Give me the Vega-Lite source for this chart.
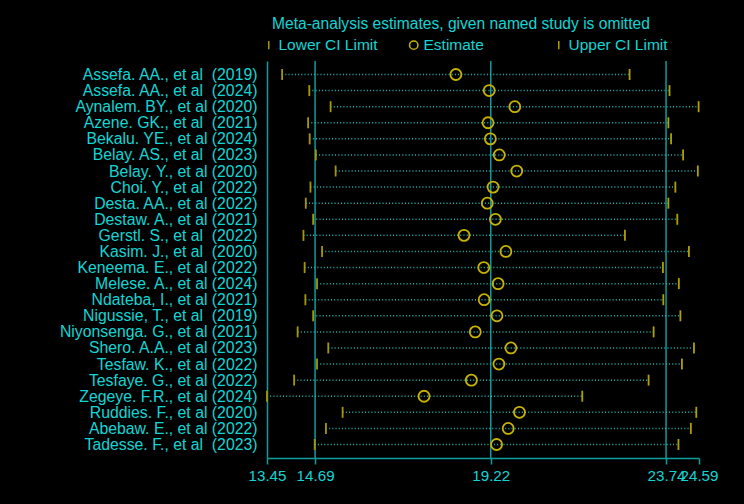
{
  "$schema": "https://vega.github.io/schema/vega-lite/v6.json",
  "width": 432,
  "height": 397,
  "autosize": {"type": "none"},
  "padding": {"left": 267, "top": 61, "right": 45, "bottom": 46},
  "background": "#000000",
  "config": {
    "font": "Liberation Sans",
    "view": {"stroke": null},
    "axis": {"grid": false, "title": null}
  },
  "title": {
    "text": "Meta-analysis estimates, given named study is omitted",
    "anchor": "start",
    "frame": "group",
    "dx": 5,
    "fontSize": 15.6,
    "fontWeight": "normal",
    "color": "#12d6d6",
    "offset": 4
  },
  "datasets": {
    "studies": [
      {"study": "Assefa. AA., et al\u00a0 (2019)", "lo": 13.84, "est": 18.32, "hi": 22.80},
      {"study": "Assefa. AA., et al\u00a0 (2024)", "lo": 14.54, "est": 19.18, "hi": 23.83},
      {"study": "Aynalem. BY., et al (2020)", "lo": 15.09, "est": 19.84, "hi": 24.58},
      {"study": "Azene. GK., et al\u00a0 (2021)", "lo": 14.51, "est": 19.15, "hi": 23.80},
      {"study": "Bekalu. YE., et al (2024)", "lo": 14.55, "est": 19.21, "hi": 23.87},
      {"study": "Belay. AS., et al\u00a0 (2023)", "lo": 14.71, "est": 19.44, "hi": 24.18},
      {"study": "Belay. Y., et al (2020)", "lo": 15.22, "est": 19.89, "hi": 24.56},
      {"study": "Choi. Y., et al\u00a0 (2022)", "lo": 14.57, "est": 19.28, "hi": 23.98},
      {"study": "Desta. AA., et al (2022)", "lo": 14.45, "est": 19.13, "hi": 23.80},
      {"study": "Destaw. A., et al (2021)", "lo": 14.64, "est": 19.34, "hi": 24.03},
      {"study": "Gerstl. S., et al\u00a0 (2022)", "lo": 14.39, "est": 18.53, "hi": 22.68},
      {"study": "Kasim. J., et al\u00a0 (2020)", "lo": 14.87, "est": 19.61, "hi": 24.33},
      {"study": "Keneema. E., et al (2022)", "lo": 14.42, "est": 19.04, "hi": 23.66},
      {"study": "Melese. A., et al (2024)", "lo": 14.74, "est": 19.41, "hi": 24.07},
      {"study": "Ndateba, I., et al (2021)", "lo": 14.44, "est": 19.05, "hi": 23.67},
      {"study": "Nigussie, T., et al\u00a0 (2019)", "lo": 14.64, "est": 19.38, "hi": 24.11},
      {"study": "Niyonsenga. G., et al (2021)", "lo": 14.24, "est": 18.82, "hi": 23.42},
      {"study": "Shero. A.A., et al (2023)", "lo": 15.03, "est": 19.74, "hi": 24.46},
      {"study": "Tesfaw. K., et al (2022)", "lo": 14.74, "est": 19.43, "hi": 24.15},
      {"study": "Tesfaye. G., et al (2022)", "lo": 14.15, "est": 18.72, "hi": 23.29},
      {"study": "Zegeye. F.R., et al (2024)", "lo": 13.45, "est": 17.50, "hi": 21.58},
      {"study": "Ruddies. F., et al (2020)", "lo": 15.40, "est": 19.96, "hi": 24.52},
      {"study": "Abebaw. E., et al (2022)", "lo": 14.97, "est": 19.67, "hi": 24.38},
      {"study": "Tadesse. F., et al\u00a0 (2023)", "lo": 14.68, "est": 19.37, "hi": 24.06}
    ],
    "refs": [{"ref": 14.69}, {"ref": 19.22}, {"ref": 23.74}]
  },
  "layer": [
    {
      "data": {"name": "refs"},
      "mark": {"type": "rule", "color": "#0e9c9c", "strokeWidth": 1.5},
      "encoding": {
        "x": {"field": "ref", "type": "quantitative"}
      }
    },
    {
      "data": {"name": "studies"},
      "mark": {"type": "rule", "color": "#22b8b8", "strokeWidth": 1.5, "strokeDash": [1, 2.2]},
      "encoding": {
        "y": {"field": "study", "type": "ordinal", "sort": null,
              "scale": {"type": "point", "padding": 0.84},
              "axis": {"domainColor": "#0e9c9c", "domainWidth": 1.5, "ticks": false, "labelPadding": 10,
                       "labelFontSize": 15.8, "labelColor": "#12d6d6", "labelLimit": 300}},
        "x": {"field": "lo", "type": "quantitative",
              "scale": {"domain": [13.45, 24.59], "nice": false, "zero": false},
              "axis": {"values": [13.45, 14.69, 19.22, 23.74, 24.59], "format": ".2f", "labelOverlap": false,
                       "domainColor": "#0e9c9c", "domainWidth": 1.5, "tickColor": "#0e9c9c", "tickWidth": 1.5,
                       "tickSize": 6, "labelFontSize": 15.2, "labelColor": "#12d6d6", "labelPadding": 4,
                       "labelFlush": false}},
        "x2": {"field": "hi"}
      }
    },
    {
      "data": {"name": "studies"},
      "transform": [{"fold": ["lo", "est", "hi"], "as": ["key", "value"]}],
      "mark": {"type": "point", "filled": false, "size": 121, "strokeWidth": 1.8, "opacity": 1},
      "encoding": {
        "y": {"field": "study", "type": "ordinal", "sort": null},
        "x": {"field": "value", "type": "quantitative"},
        "shape": {"field": "key", "type": "nominal",
                  "scale": {"domain": ["lo", "est", "hi"], "range": ["M0,-1L0,1", "circle", "M0,-1L0,1"]},
                  "legend": {"title": null, "orient": "none", "legendX": -6, "legendY": -24,
                             "direction": "horizontal", "gridAlign": "all",
                             "columnPadding": 28, "labelFontSize": 15.5, "labelColor": "#12d6d6",
                             "symbolSize": 70, "symbolStrokeWidth": 1.5, "labelOffset": 2,
                             "padding": 0,
                             "labelExpr": "datum.value == 'lo' ? 'Lower CI Limit' : datum.value == 'est' ? 'Estimate' : 'Upper CI Limit'"}},
        "color": {"field": "key", "type": "nominal",
                  "scale": {"domain": ["lo", "est", "hi"], "range": ["#a89800", "#c8b400", "#b0a000"]},
                  "legend": {"title": null, "orient": "none", "legendX": -6, "legendY": -24,
                             "direction": "horizontal", "gridAlign": "all",
                             "columnPadding": 28, "labelFontSize": 15.5, "labelColor": "#12d6d6",
                             "symbolSize": 70, "symbolStrokeWidth": 1.5, "labelOffset": 2,
                             "padding": 0,
                             "labelExpr": "datum.value == 'lo' ? 'Lower CI Limit' : datum.value == 'est' ? 'Estimate' : 'Upper CI Limit'"}}
      }
    }
  ]
}
